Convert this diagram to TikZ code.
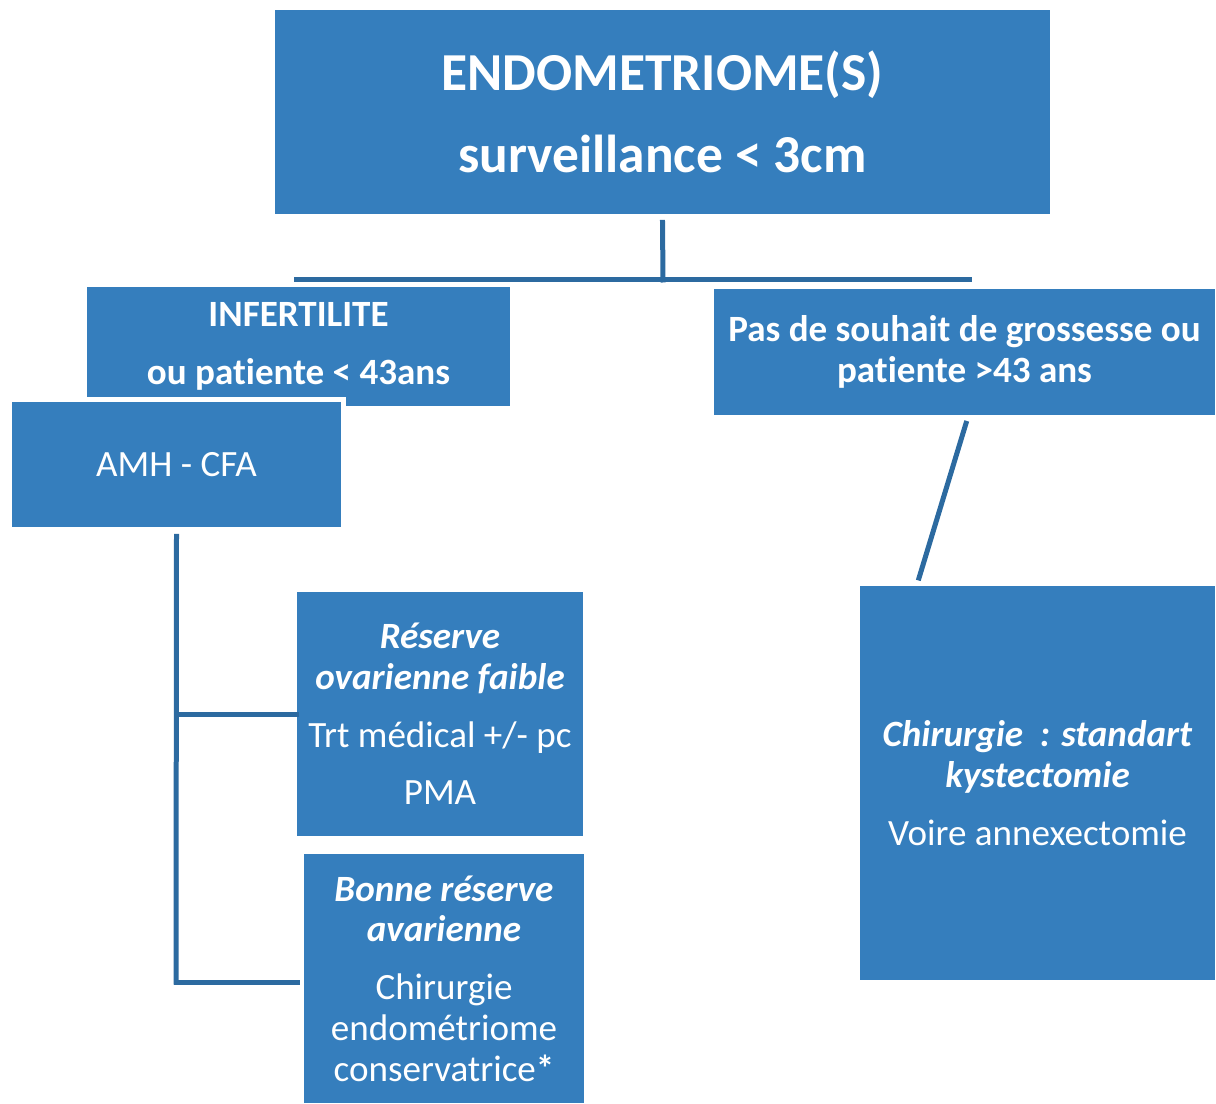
\documentclass[tikz,border=0pt]{standalone}
\usepackage{fontspec}
\setmainfont{Carlito}[Ligatures=NoCommon]
\usepackage{tikz}
\usetikzlibrary{positioning}
\definecolor{boxblue}{RGB}{53,126,189}
\definecolor{lineblue}{RGB}{44,106,160}
\tikzset{
	x=0.02cm, y=-0.02cm, % one unit is one pixel of the sketch
	box/.style={fill=boxblue, text=white, align=center, inner sep=2pt,
		font=\fontsize{21.1}{23.2}\selectfont}, % every blue box
	boldbox/.style={box, font=\fontsize{21.1}{23.2}\selectfont\bfseries},
	titlebox/.style={box, font=\fontsize{30.4}{34.4}\selectfont\bfseries},
	link/.style={draw=lineblue, line width=0.1cm, line cap=rect}, % the connectors
}

\begin{document}
\begin{tikzpicture}
	\useasboundingbox (0,0) rectangle (1216,1104);

	\node[titlebox, minimum width=15.5cm, minimum height=4.08cm] (endo) at (662.5,112)
		{ENDOMETRIOME(S)\\[12pt]surveillance < 3cm};

	\node[boldbox, minimum width=8.46cm, minimum height=2.38cm] (infert) at (298.5,346.5)
		{INFERTILITE\\[9.6pt]ou patiente < 43ans};
	\node[box, draw=white, line width=0.1cm, minimum width=6.68cm, minimum height=2.6cm] (amh) at (176.5,464.5)
		{AMH - CFA};

	\node[boldbox, minimum width=10.02cm, minimum height=2.52cm] (pas) at (964.5,352)
		{Pas de souhait de grossesse ou\\patiente >43 ans};

	\node[box, minimum width=5.72cm, minimum height=4.88cm] (faible) at (440,714)
		{\textbf{\textit{Réserve}}\\\textbf{\textit{ovarienne faible}}\\[9.6pt]Trt médical +/- pc\\[9.6pt]PMA};
	\node[box, minimum width=5.6cm, minimum height=4.98cm] (bonne) at (444,978.5)
		{\textbf{\textit{Bonne réserve}}\\\textbf{\textit{avarienne}}\\[9.6pt]Chirurgie\\endométriome\\conservatrice\textbf{*}};
	\node[box, minimum width=7.1cm, minimum height=7.88cm] (chir) at (1037.5,783)
		{\textbf{\textit{Chirurgie~ : standart}}\\\textbf{\textit{kystectomie}}\\[9.6pt]Voire annexectomie};

	\coordinate (split) at (663,280);
	\coordinate (barleft) at (296,280);
	\coordinate (barright) at (969,280);
	\coordinate (chirtop) at (919,578);
	\coordinate (amhfoot) at (176,982);

	\draw[link] ([yshift=-0.16cm]endo.south) -- (split);
	\draw[link] (barleft) -- (barright);
	\draw[link] ([xshift=0.03cm,yshift=-0.16cm]pas.south) -- (chirtop);
	\draw[link] ([yshift=-0.09cm]amh.south) -- (amhfoot);
	\draw[link] (amhfoot |- faible.west) -- (faible.west);
	\draw[link] (amhfoot) -- ([xshift=-0.12cm]bonne.west |- amhfoot);
\end{tikzpicture}
\end{document}
